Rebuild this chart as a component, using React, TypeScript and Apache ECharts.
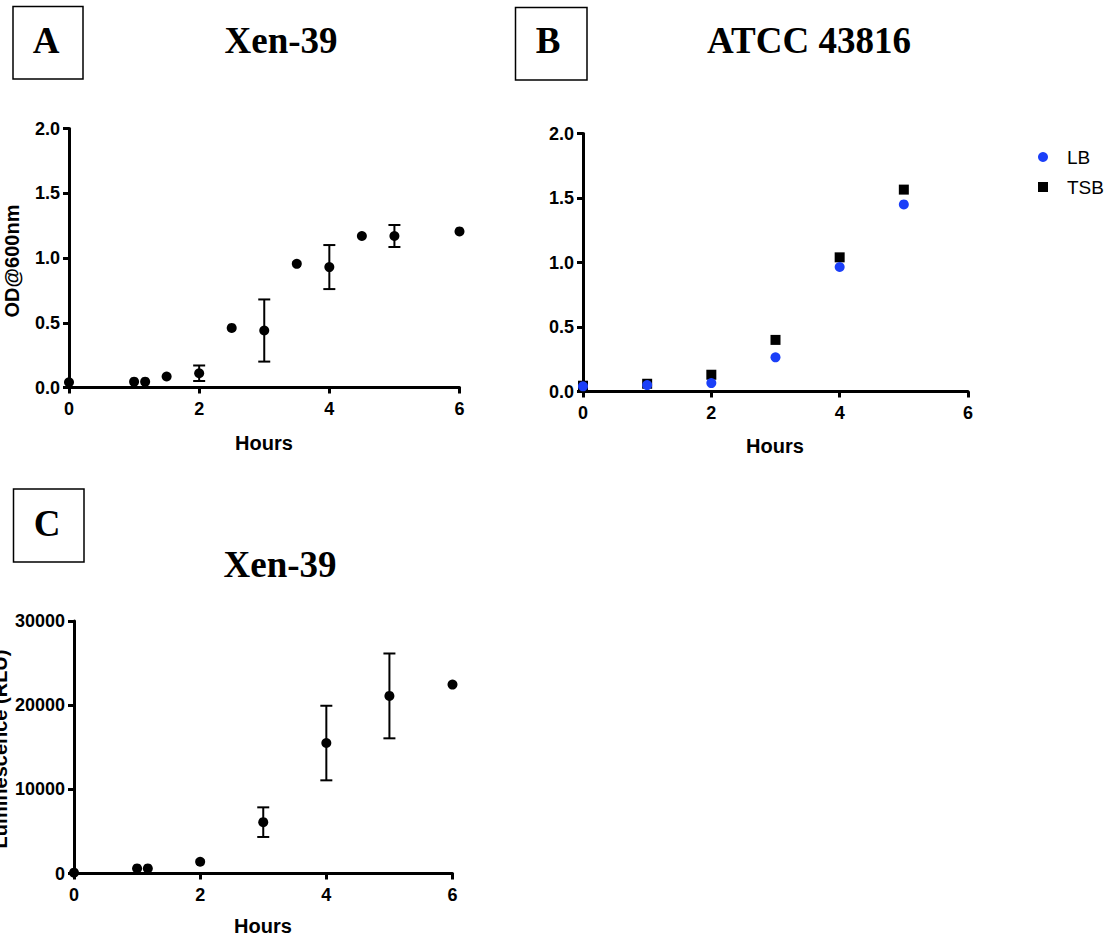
import React, { useEffect, useRef } from "react";
import * as echarts from "echarts";

// Panel A: Xen-39 OD600
const hoursA = [0, 1, 1.17, 1.5, 2, 2.5, 3, 3.5, 4, 4.5, 5, 6];
const odA = [0.04, 0.045, 0.045, 0.085, 0.11, 0.46, 0.44, 0.955, 0.93, 1.17, 1.17, 1.205];
const odAErr = [0, 0, 0, 0, 0.06, 0, 0.24, 0, 0.17, 0, 0.085, 0];

// Panel B: ATCC 43816
const hoursB = [0, 1, 2, 3, 4, 5];
const odLB = [0.04, 0.05, 0.065, 0.265, 0.965, 1.45];
const odTSB = [0.045, 0.06, 0.13, 0.4, 1.04, 1.565];

// Panel C: Xen-39 luminescence
const hoursC = [0, 1, 1.17, 2, 3, 4, 5, 6];
const lumC = [100, 600, 600, 1400, 6100, 15500, 21100, 22450];
const lumCErr = [0, 0, 0, 0, 1760, 4430, 5040, 0];

const xTicks = [0, 2, 4, 6];
const odTicks = [0, 0.5, 1, 1.5, 2];
const lumTicks = [0, 10000, 20000, 30000];

const SANS = '"Liberation Sans", Arial, Helvetica, sans-serif';
const SERIF = '"Liberation Serif", "Times New Roman", serif';
const BLUE = "#1b3ff8";

const axisLine = { show: true, lineStyle: { color: "#000", width: 3 } };
const axisTick = { show: true, length: 6, lineStyle: { color: "#000", width: 3 } };
const labelStyle = { color: "#000", fontFamily: SANS, fontWeight: "bold" as const, fontSize: 18 };

function xAxis(gridIndex: number) {
  return {
    type: "value" as const,
    gridIndex,
    min: xTicks[0],
    max: xTicks[xTicks.length - 1],
    interval: 2,
    axisLine: { ...axisLine, onZero: false },
    axisTick,
    splitLine: { show: false },
    axisLabel: { ...labelStyle, margin: 12 },
  };
}

function yAxis(gridIndex: number, ticks: number[], fmt: (v: number) => string) {
  return {
    type: "value" as const,
    gridIndex,
    min: ticks[0],
    max: ticks[ticks.length - 1],
    interval: ticks[1] - ticks[0],
    axisLine: { ...axisLine, onZero: false },
    axisTick,
    splitLine: { show: false },
    axisLabel: { ...labelStyle, margin: 9, formatter: fmt },
  };
}

function errorSeries(idx: number, xs: number[], ys: number[], es: number[]) {
  const data = xs
    .map((x, i) => [x, ys[i], es[i]])
    .filter((d) => d[2] > 0);
  return {
    type: "custom" as const,
    xAxisIndex: idx,
    yAxisIndex: idx,
    clip: false,
    silent: true,
    z: 3,
    data,
    encode: { x: 0, y: 1 },
    renderItem: (_p: any, api: any) => {
      const x = api.value(0);
      const y = api.value(1);
      const e = api.value(2);
      const top = api.coord([x, y + e]);
      const bot = api.coord([x, y - e]);
      const hw = 6;
      const st = { stroke: "#000", lineWidth: 2 };
      return {
        type: "group",
        children: [
          { type: "line", shape: { x1: top[0], y1: top[1], x2: bot[0], y2: bot[1] }, style: st },
          { type: "line", shape: { x1: top[0] - hw, y1: top[1], x2: top[0] + hw, y2: top[1] }, style: st },
          { type: "line", shape: { x1: bot[0] - hw, y1: bot[1], x2: bot[0] + hw, y2: bot[1] }, style: st },
        ],
      };
    },
  };
}

function boxText(text: string, x: number, y: number, size = 37) {
  return {
    type: "text",
    x,
    y,
    style: {
      text,
      fill: "#000",
      font: `bold ${size}px ${SERIF}`,
      align: "center",
      verticalAlign: "middle",
    },
  };
}

function sansText(text: string, x: number, y: number, rot = 0) {
  return {
    type: "text",
    x,
    y,
    rotation: rot,
    style: {
      text,
      fill: "#000",
      font: `bold 20px ${SANS}`,
      align: "center",
      verticalAlign: "middle",
    },
  };
}

function frame(x: number, y: number, w: number, h: number) {
  return {
    type: "rect",
    shape: { x, y, width: w, height: h },
    style: { fill: "none", stroke: "#000", lineWidth: 1.5 },
  };
}

export default function App() {
  const ref = useRef<HTMLDivElement>(null);

  useEffect(() => {
    if (!ref.current) return;
    const chart = echarts.init(ref.current, null, { renderer: "svg" });
    const fmt1 = (v: number) => v.toFixed(1);
    const fmt0 = (v: number) => String(v);

    chart.setOption({
      animation: false,
      backgroundColor: "#fff",
      grid: [
        { left: 69, top: 128.5, width: 390.5, height: 259, outerBoundsMode: "none" },
        { left: 583, top: 133.5, width: 385, height: 258, outerBoundsMode: "none" },
        { left: 74, top: 621, width: 378.5, height: 252.5, outerBoundsMode: "none" },
      ],
      xAxis: [xAxis(0), xAxis(1), xAxis(2)],
      yAxis: [yAxis(0, odTicks, fmt1), yAxis(1, odTicks, fmt1), yAxis(2, lumTicks, fmt0)],
      legend: {
        orient: "vertical",
        left: 1033,
        top: 141,
        itemWidth: 10,
        itemHeight: 10,
        itemGap: 8,
        data: [
          { name: "LB", icon: "circle" },
          { name: "TSB", icon: "rect" },
        ],
        textStyle: {
          color: "#000",
          fontFamily: SANS,
          fontSize: 19,
          lineHeight: 22,
          padding: [0, 0, 0, 14],
        },
      },
      series: [
        errorSeries(0, hoursA, odA, odAErr),
        {
          type: "scatter",
          name: "Xen-39 OD",
          xAxisIndex: 0,
          yAxisIndex: 0,
          symbol: "circle",
          symbolSize: 10,
          z: 4,
          itemStyle: { color: "#000", opacity: 1 },
          data: hoursA.map((h, i) => [h, odA[i]]),
        },
        {
          type: "scatter",
          name: "TSB",
          xAxisIndex: 1,
          yAxisIndex: 1,
          symbol: "rect",
          symbolSize: 10,
          z: 3,
          itemStyle: { color: "#000", opacity: 1 },
          data: hoursB.map((h, i) => [h, odTSB[i]]),
        },
        {
          type: "scatter",
          name: "LB",
          xAxisIndex: 1,
          yAxisIndex: 1,
          symbol: "circle",
          symbolSize: 10,
          z: 4,
          itemStyle: { color: BLUE, opacity: 1 },
          data: hoursB.map((h, i) => [h, odLB[i]]),
        },
        errorSeries(2, hoursC, lumC, lumCErr),
        {
          type: "scatter",
          name: "Xen-39 Lum",
          xAxisIndex: 2,
          yAxisIndex: 2,
          symbol: "circle",
          symbolSize: 10,
          z: 4,
          itemStyle: { color: "#000", opacity: 1 },
          data: hoursC.map((h, i) => [h, lumC[i]]),
        },
      ],
      graphic: [
        frame(13, 6.5, 70, 72.5),
        boxText("A", 46, 40),
        boxText("Xen-39", 281, 40),
        frame(515.5, 7.5, 71.5, 72.5),
        boxText("B", 548, 40),
        boxText("ATCC 43816", 809, 40),
        frame(13.5, 489, 70.5, 73),
        boxText("C", 47, 523),
        boxText("Xen-39", 280, 564),
        sansText("OD@600nm", 12, 261, Math.PI / 2),
        sansText("Hours", 264, 443),
        sansText("Hours", 775, 446),
        sansText("Hours", 263, 926),
        sansText("Luminescence (RLU)", 0, 749, Math.PI / 2),
      ],
    });

    return () => chart.dispose();
  }, []);

  return (
    <div
      ref={ref}
      style={{ position: "absolute", left: 0, top: 0, width: 1115, height: 940 }}
    />
  );
}
